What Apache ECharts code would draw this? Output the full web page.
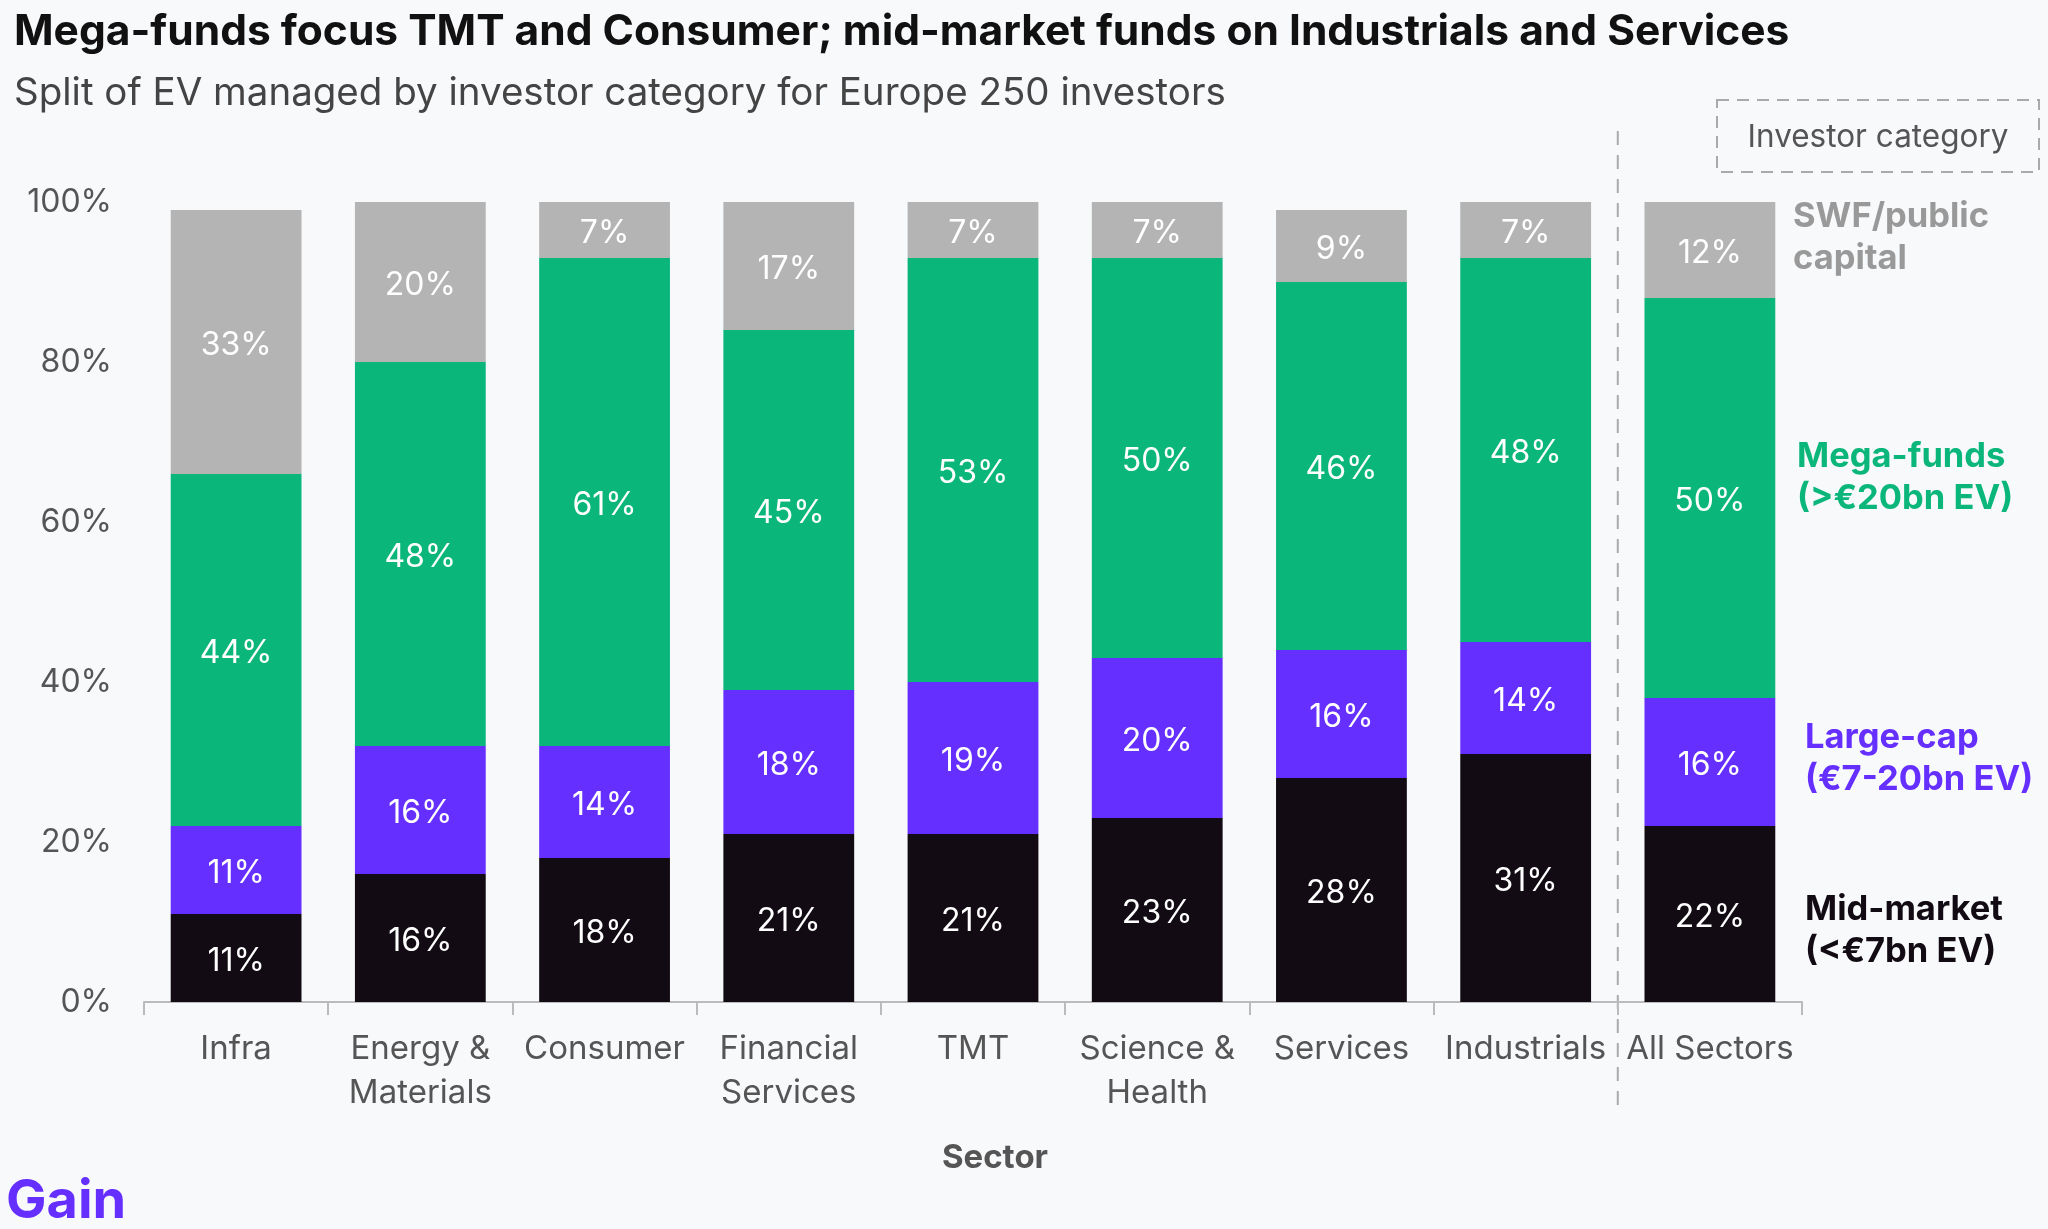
<!DOCTYPE html>
<html>
<head>
<meta charset="utf-8">
<script src="https://cdn.jsdelivr.net/npm/echarts@6/dist/echarts.min.js"></script>
<style>
  html, body { margin: 0; padding: 0; background: #f8f9fb; }
  #chart { width: 2048px; height: 1229px; }
</style>
</head>
<body>
<div id="chart"></div>
<script>
// sectors on the x axis, the last one is the total
const sectors = ['Infra', 'Energy &\nMaterials', 'Consumer', 'Financial\nServices', 'TMT', 'Science &\nHealth', 'Services', 'Industrials', 'All Sectors'];
// share of EV (%) per investor category, bottom to top
const midMarket = [11, 16, 18, 21, 21, 23, 28, 31, 22];
const largeCap = [11, 16, 14, 18, 19, 20, 16, 14, 16];
const megaFunds = [44, 48, 61, 45, 53, 50, 46, 48, 50];
const swfPublic = [33, 20, 7, 17, 7, 7, 9, 7, 12];
const categoryNames = ['Mid-market', 'Large-cap', 'Mega-funds', 'SWF/public capital'];
const categoryColors = ['#120b14', '#652fff', '#0bb67b', '#b3b4b3'];

const FONT = 'Inter, "Noto Sans", sans-serif';
const chart = echarts.init(document.getElementById('chart'));

function barSeries(name, data, color) {
  return {
    name: name,
    type: 'bar',
    stack: 'ev',
    data: data,
    barCategoryGap: '29%',
    itemStyle: { color: color },
    label: {
      show: true,
      position: 'inside',
      offset: [0, 3],
      color: '#ffffff',
      fontFamily: FONT,
      fontSize: 32,
      formatter: '{c}%'
    }
  };
}

const option = {
  backgroundColor: '#f8f9fb',
  animation: false,
  title: [
    {
      text: 'Mega-funds focus TMT and Consumer; mid-market funds on Industrials and Services',
      left: 9, top: 6,
      textStyle: { fontFamily: FONT, fontSize: 42.5, fontWeight: 'bold', color: '#111111' }
    },
    {
      text: 'Split of EV managed by investor category for Europe 250 investors',
      left: 9, top: 69,
      textStyle: { fontFamily: FONT, fontSize: 38.5, fontWeight: 'normal', color: '#444444' }
    }
  ],
  grid: { left: 144, right: 246, top: 202, bottom: 227 },
  xAxis: {
    type: 'category',
    data: sectors,
    axisLine: { lineStyle: { color: '#bbbbbb', width: 2 } },
    axisTick: { show: true, length: 13, lineStyle: { color: '#bbbbbb', width: 2 } },
    axisLabel: {
      interval: 0,
      margin: 25,
      color: '#555555',
      fontFamily: FONT,
      fontSize: 33,
      lineHeight: 44
    }
  },
  yAxis: {
    type: 'value',
    min: 0, max: 100, interval: 20,
    axisLine: { show: false },
    axisTick: { show: false },
    splitLine: { show: false },
    axisLabel: {
      margin: 32,
      color: '#555555',
      fontFamily: FONT,
      fontSize: 32,
      formatter: '{value}%'
    }
  },
  series: [
    barSeries(categoryNames[0], midMarket, categoryColors[0]),
    barSeries(categoryNames[1], largeCap, categoryColors[1]),
    barSeries(categoryNames[2], megaFunds, categoryColors[2]),
    barSeries(categoryNames[3], swfPublic, categoryColors[3])
  ]
};
chart.setOption(option);

// separator between the sectors and the total, at the category boundary
const xSep = (chart.convertToPixel({ gridIndex: 0 }, [7, 0])[0] + chart.convertToPixel({ gridIndex: 0 }, [8, 0])[0]) / 2;

const legendLabel = (text, x, y, color) => ({
  type: 'text', left: x, top: y,
  style: { text: text, fill: color, font: 'bold 34.5px ' + FONT, lineHeight: 42 }
});

chart.setOption({
  graphic: [
    { type: 'line', shape: { x1: xSep, y1: 131, x2: xSep, y2: 1112 },
      style: { stroke: '#aaaaaa', lineWidth: 2, lineDash: [14, 10] } },
    { type: 'rect', shape: { x: 1717, y: 100, width: 322, height: 72 },
      style: { fill: 'none', stroke: '#aaaaaa', lineWidth: 2, lineDash: [12, 8] } },
    { type: 'text', x: 1878, y: 138,
      style: { text: 'Investor category', fill: '#555555', font: '31.5px ' + FONT, align: 'center', verticalAlign: 'middle' } },
    legendLabel('SWF/public\ncapital', 1793, 196, '#999999'),
    legendLabel('Mega-funds\n(>€20bn EV)', 1797, 436, '#0bb67b'),
    legendLabel('Large-cap\n(€7-20bn EV)', 1805, 717, '#652fff'),
    legendLabel('Mid-market\n(<€7bn EV)', 1805, 889, '#120b14'),
    { type: 'text', x: 995, y: 1158,
      style: { text: 'Sector', fill: '#555555', font: 'bold 33px ' + FONT, align: 'center', verticalAlign: 'middle' } },
    { type: 'text', left: 6, top: 1175,
      style: { text: 'Gain', fill: '#652fff', font: 'bold 54px ' + FONT } }
  ]
});
</script>
</body>
</html>
